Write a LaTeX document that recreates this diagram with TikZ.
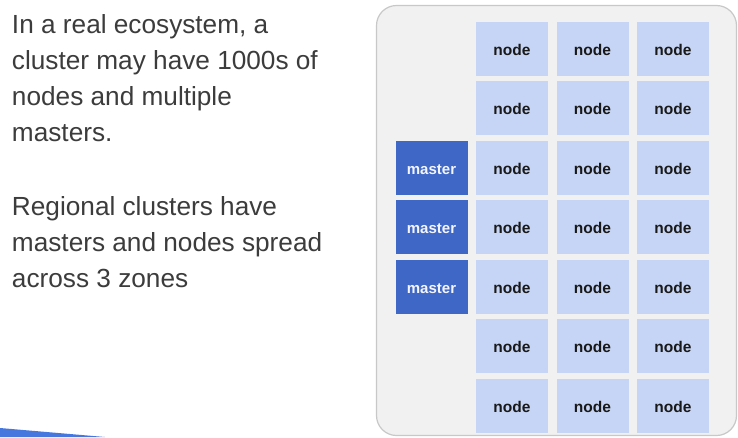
\documentclass[tikz,border=0pt]{standalone}
\usepackage{fontspec}
\setmainfont{Liberation Sans}
\begin{document}
\begin{tikzpicture}[x=1pt,y=-1pt,
  every node/.style={inner sep=0pt,outer sep=0pt},
  bodytext/.style={anchor=base west,text=txtgray,font=\fontsize{26.2}{30}\selectfont},
  cell/.style={fill=nodefill,minimum width=72pt,minimum height=54pt,font=\fontsize{15.5}{18}\selectfont\bfseries,text=black!90,text height=13.5pt,text depth=0pt},
  mastercell/.style={fill=masterfill,minimum width=72pt,minimum height=54pt,font=\fontsize{15}{18}\selectfont\bfseries,text=white!96!blue,text height=13pt,text depth=0pt},
]
\definecolor{txtgray}{HTML}{3C3C3C}
\definecolor{nodefill}{HTML}{C6D5F5}
\definecolor{masterfill}{HTML}{3E67C6}
\definecolor{panelfill}{HTML}{F1F1F1}
\definecolor{panelline}{HTML}{C8C8C8}
\definecolor{wedge}{HTML}{4677DE}
\useasboundingbox (0,0) rectangle (738,437);
\fill[white] (0,0) rectangle (738,437);
% panel
\draw[panelline,fill=panelfill,line width=1.2pt,rounded corners=20pt] (376.5,5.5) rectangle (736.5,435.5);
% wedge
\fill[wedge] (0,428) -- (105,437) -- (0,437) -- cycle;
% text
\node[bodytext] (t1) at (12,33) {In a real ecosystem, a};
\node[bodytext] (t2) at (12,69) {cluster may have 1000s of};
\node[bodytext] (t3) at (12,105) {nodes and multiple};
\node[bodytext] (t4) at (12,141) {masters.};
\node[bodytext] (t5) at (12,215) {Regional clusters have};
\node[bodytext] (t6) at (12,251) {masters and nodes spread};
\node[bodytext] (t7) at (12,287) {across 3 zones};
% grid
\foreach \r in {0,...,6}{
  \foreach \c/\x in {1/512,2/592.5,3/673}{
    \node[cell] (n\r\c) at (\x,{48.5+59.5*\r}) {node};
  }
}
\foreach \r in {2,3,4}{
  \node[mastercell] (m\r) at (431.5,{48.5+59.5*\r}) {master};
}
\end{tikzpicture}
\end{document}
